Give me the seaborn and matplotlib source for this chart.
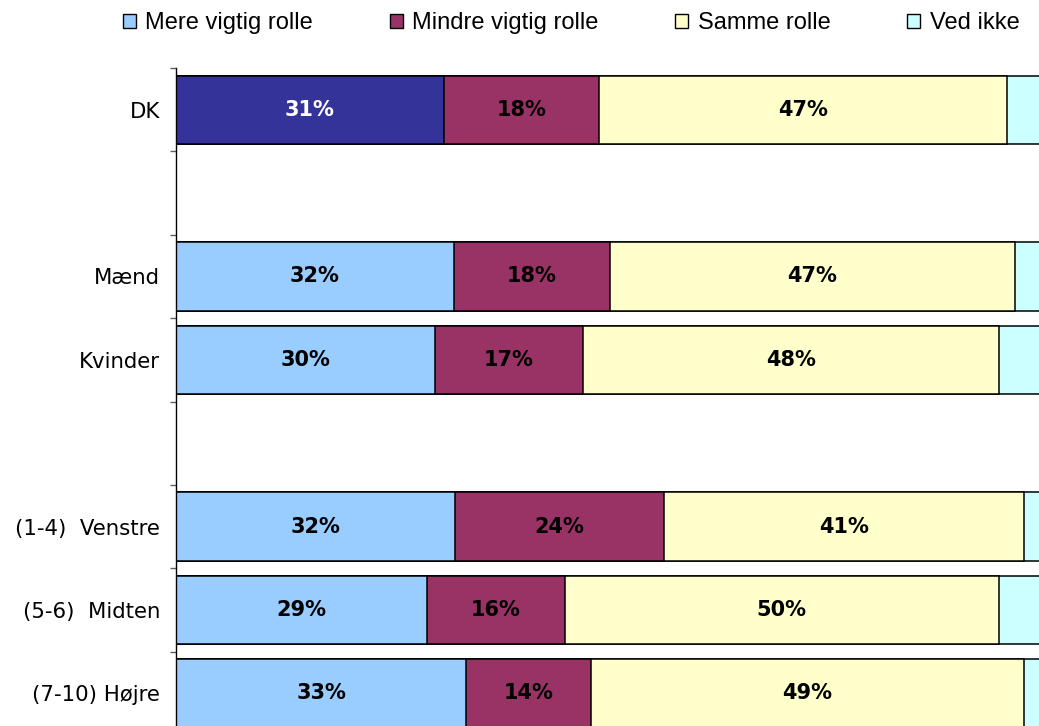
import numpy as np
import pandas as pd
import matplotlib
matplotlib.use("Agg")
import matplotlib.pyplot as plt
import seaborn as sns
from matplotlib.patches import Patch

# categories (gap rows have no data)
order = ["DK", "gap1", "Mænd", "Kvinder", "gap2", "(1-4)  Venstre", "(5-6)  Midten", "(7-10) Højre"]
groups = ["DK", "Mænd", "Kvinder", "(1-4)  Venstre", "(5-6)  Midten", "(7-10) Højre"]

# shares in percent
mere = [30.9, 32.1, 29.9, 32.2, 29.0, 33.5]
mindre = [18.0, 18.0, 17.1, 24.2, 15.9, 14.4]
samme = [47.1, 46.8, 48.0, 41.5, 50.1, 50.0]
ved_ikke = [4.0, 3.1, 5.0, 2.1, 5.0, 2.1]

# printed labels
mere_lbl = ["31%", "32%", "30%", "32%", "29%", "33%"]
mindre_lbl = ["18%", "18%", "17%", "24%", "16%", "14%"]
samme_lbl = ["47%", "47%", "48%", "41%", "50%", "49%"]

series = ["Mere vigtig rolle", "Mindre vigtig rolle", "Samme rolle", "Ved ikke"]
colors = ["#99CCFF", "#993366", "#FFFFCC", "#CCFFFF"]
dk_color = "#333399"

df = pd.DataFrame({"group": groups, "mere": mere, "mindre": mindre,
                   "samme": samme, "ved_ikke": ved_ikke})
df["c1"] = df["mere"]
df["c2"] = df["c1"] + df["mindre"]
df["c3"] = df["c2"] + df["samme"]
df["c4"] = df["c3"] + df["ved_ikke"]

sns.set_theme(style="white")
plt.rcParams["font.family"] = ["DejaVu Sans"]
plt.rcParams["text.color"] = "black"
plt.rcParams["ytick.color"] = "black"
plt.rcParams["ytick.labelcolor"] = "black"

fig = plt.figure(figsize=(10.39, 7.26), dpi=100)
# axes runs a little past the right and bottom edge, like the cropped original
ax = fig.add_axes([176 / 1039, -9 / 726, 866 / 1039, (735 - 68) / 726])

bar_w = 0.82
kw = dict(order=order, orient="h", width=bar_w, edgecolor="black", linewidth=1.1, ax=ax)

# stacked by drawing cumulative totals from the back
sns.barplot(data=df, x="c4", y="group", color=colors[3], saturation=1, **kw)
sns.barplot(data=df, x="c3", y="group", color=colors[2], saturation=1, **kw)
sns.barplot(data=df, x="c2", y="group", color=colors[1], saturation=1, **kw)
blue_pal = {g: (dk_color if g == "DK" else colors[0]) for g in groups}
sns.barplot(data=df, x="c1", y="group", hue="group", palette=blue_pal, saturation=1,
            legend=False, **kw)

# segment labels
ypos = {g: order.index(g) for g in groups}
for i, g in enumerate(groups):
    y = ypos[g]
    ax.text(mere[i] / 2, y, mere_lbl[i], ha="center", va="center", fontsize=15,
            fontweight="bold", color="white" if g == "DK" else "black")
    ax.text(df["c1"][i] + mindre[i] / 2, y, mindre_lbl[i], ha="center", va="center",
            fontsize=15, fontweight="bold", color="black")
    ax.text(df["c2"][i] + samme[i] / 2, y, samme_lbl[i], ha="center", va="center",
            fontsize=15, fontweight="bold", color="black")

ax.set_xlim(0, 100)
ax.set_ylim(len(order) - 0.5, -0.5)
ax.set_xlabel("")
ax.set_ylabel("")
ax.set_xticks([])
ax.set_yticks(range(len(order)))
ax.set_yticklabels([o if not o.startswith("gap") else "" for o in order], fontsize=15.3)
ax.set_yticks(np.arange(-0.5, len(order), 1), minor=True)
ax.tick_params(axis="y", which="major", length=0, pad=11.5, labelcolor="black")
ax.tick_params(axis="y", which="minor", length=4, width=1, color="#606060", left=True)
for s in ["top", "right", "bottom"]:
    ax.spines[s].set_visible(False)
ax.spines["left"].set_color("black")
ax.spines["left"].set_linewidth(1.0)

handles = [Patch(facecolor=c, edgecolor="black", linewidth=1) for c in colors]
fig.legend(handles, series, loc="center", bbox_to_anchor=(571 / 1039, 1 - 23 / 726), ncol=4,
           frameon=False, prop={"family": "Liberation Sans", "size": 17},
           labelcolor="black",
           handlelength=0.55, handleheight=0.55, handletextpad=0.4, columnspacing=3.25)

fig.savefig("out.png", dpi=100)
